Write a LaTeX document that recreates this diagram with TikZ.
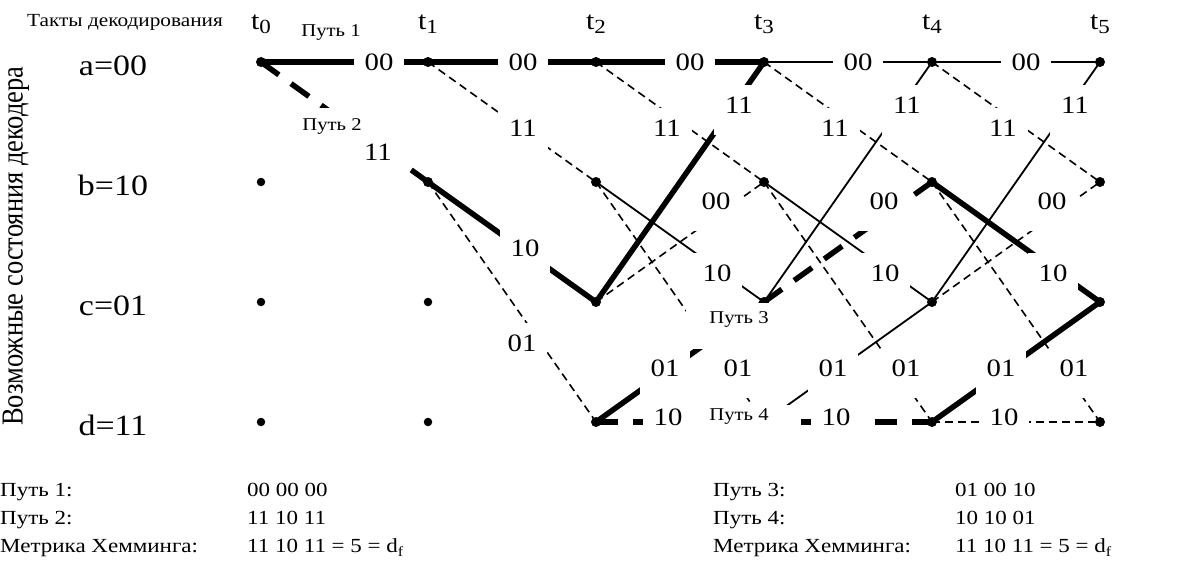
\documentclass[tikz,border=0pt]{standalone}
\usepackage{fontspec}
\setmainfont{Liberation Serif}[FakeStretch=1.15]
\newfontfamily\uprightserif{Liberation Serif}
\newcommand\tk[1]{t\raisebox{-4pt}{\fontsize{20}{20}\selectfont #1}}
\newcommand\dfree{d\raisebox{-4pt}{\fontsize{14}{14}\selectfont f}}

\tikzset{
  state/.style={circle, fill=black, inner sep=0pt, minimum size=10pt},
  idle/.style={circle, fill=black, inner sep=0pt, minimum size=8.5pt},
  heavy/.style={line width=5.5pt},
  light/.style={line width=1.8pt},
  heavydash/.style={line width=5.5pt, dash pattern=on 22pt off 15pt},
  lightdash/.style={line width=1.6pt, dash pattern=on 8pt off 5pt},
  bits/.style={fill=white, inner sep=0pt, anchor=base, yshift=-8.5pt,
    text height=28.5pt, text depth=21pt, minimum width=50pt,
    font=\fontsize{25}{25}\selectfont},
  pathtag/.style={fill=white, inner sep=0pt, anchor=base,
    font=\fontsize{18}{18}\selectfont},
  caption/.style={inner sep=0pt, anchor=base west, font=\fontsize{20}{20}\selectfont},
  statename/.style={inner sep=0pt, anchor=base, font=\fontsize{29.5}{29.5}\selectfont},
  tick/.style={inner sep=0pt, anchor=base, font=\fontsize{26}{26}\selectfont}
}

\begin{document}
\begin{tikzpicture}[x=1pt, y=-1pt]
\useasboundingbox (0,0) rectangle (1192,562);

% trellis grid: columns t0..t5, rows a..d
\foreach \k/\X in {0/261,1/428,2/596,3/764,4/932,5/1100}{
  \coordinate (a\k) at (\X,62);
  \coordinate (b\k) at (\X,182);
  \coordinate (c\k) at (\X,302);
  \coordinate (d\k) at (\X,422);
}

% headings
\node[inner sep=0pt, anchor=base, font=\fontsize{18.5}{18.5}\selectfont] (head) at (125,27) {Такты декодирования};
\foreach \k/\X in {0/261,1/428,2/596,3/764,4/932,5/1100}
  \node[tick] (t\k) at (\X,29) {\tk{\k}};
\node[statename] (sa) at (113,75) {a=00};
\node[statename] (sb) at (113,195) {b=10};
\node[statename] (sc) at (113,315) {c=01};
\node[statename] (sd) at (113,435) {d=11};
\node[inner sep=0pt, font=\uprightserif\fontsize{26.5}{26.5}\selectfont, xscale=1.15, rotate=90]
  (axis) at (16,246) {Возможные состояния декодера};

% branches t0 -> t1
\draw[heavy] (a0) -- (a1);
\draw[heavydash] (a0) -- (b1);
% branches t1 -> t2
\draw[heavy] (a1) -- (a2);
\draw[lightdash] (a1) -- (b2);
\draw[heavy] (b1) -- (c2);
\draw[lightdash] (b1) -- (d2);
% branches t2 -> t3
\draw[heavy] (a2) -- (a3);
\draw[lightdash] (a2) -- (b3);
\draw[light] (b2) -- (c3);
\draw[lightdash] (b2) -- (d3);
\draw[heavy] (c2) -- (a3);
\draw[lightdash] (c2) -- (b3);
\draw[heavy] (d2) -- (c3);
\draw[heavydash] (d2) -- (d3);
% branches t3 -> t4
\draw[light] (a3) -- (a4);
\draw[lightdash] (a3) -- (b4);
\draw[light] (b3) -- (c4);
\draw[lightdash] (b3) -- (d4);
\draw[light] (c3) -- (a4);
\draw[heavydash] (c3) -- (b4);
\draw[light] (d3) -- (c4);
\draw[heavydash] (d3) -- (d4);
% branches t4 -> t5
\draw[light] (a4) -- (a5);
\draw[lightdash] (a4) -- (b5);
\draw[heavy] (b4) -- (c5);
\draw[lightdash] (b4) -- (d5);
\draw[light] (c4) -- (a5);
\draw[lightdash] (c4) -- (b5);
\draw[heavy] (d4) -- (c5);
\draw[lightdash] (d4) -- (d5);

% states
\foreach \n in {a0,a1,b1,a2,b2,c2,d2,a3,b3,c3,d3,a4,b4,c4,d4,a5,b5,c5,d5}
  \node[state] (dot\n) at (\n) {};
\foreach \n in {b0,c0,d0,c1,d1}
  \node[idle] (dot\n) at (\n) {};

% path tags
\node[pathtag, text height=20pt, text depth=8pt, minimum width=76pt] (p1) at (331,36) {Путь 1};
\node[pathtag, text height=22pt, text depth=10pt, minimum width=76pt] (p2) at (332,130) {Путь 2};
\node[pathtag, text height=20pt, text depth=26pt, minimum width=106pt] (p3) at (739,323) {Путь 3};
\node[pathtag, text height=15pt, text depth=12pt, minimum width=124pt] (p4) at (739,420) {Путь 4};

% branch outputs
\node[bits] (l0aa) at (379,62) {00};
\node[bits] (l0ab) at (378,152) {11};
\node[bits] (l1aa) at (523,62) {00};
\node[bits] (l1ab) at (523,128) {11};
\node[bits] (l1bc) at (525,248) {10};
\node[bits] (l1bd) at (522,343) {01};
\foreach \k/\X in {2/596,3/764,4/932}{
  \node[bits] (l\k aa) at (\X+94,62) {00};
  \node[bits] (l\k ab) at (\X+71,128) {11};
  \node[bits] (l\k bc) at (\X+121,273) {10};
  \node[bits] (l\k bd) at (\X+142,368) {01};
  \node[bits] (l\k ca) at (\X+143,105) {11};
  \node[bits] (l\k cb) at (\X+120,201) {00};
  \node[bits] (l\k dc) at (\X+69,368) {01};
  \node[bits] (l\k dd) at (\X+72,417) {10};
}

% code sequences and distance
\node[caption] (n1) at (0,496) {Путь 1:};
\node[caption] (v1) at (247,496) {00 00 00};
\node[caption] (n2) at (0,524) {Путь 2:};
\node[caption] (v2) at (247,524) {11 10 11};
\node[caption] (n5) at (0,552) {Метрика Хемминга:};
\node[caption] (v5) at (247,552) {11 10 11 = 5 = \dfree};
\node[caption] (n3) at (713,496) {Путь 3:};
\node[caption] (v3) at (955,496) {01 00 10};
\node[caption] (n4) at (713,524) {Путь 4:};
\node[caption] (v4) at (955,524) {10 10 01};
\node[caption] (n6) at (713,552) {Метрика Хемминга:};
\node[caption] (v6) at (955,552) {11 10 11 = 5 = \dfree};
\end{tikzpicture}
\end{document}
